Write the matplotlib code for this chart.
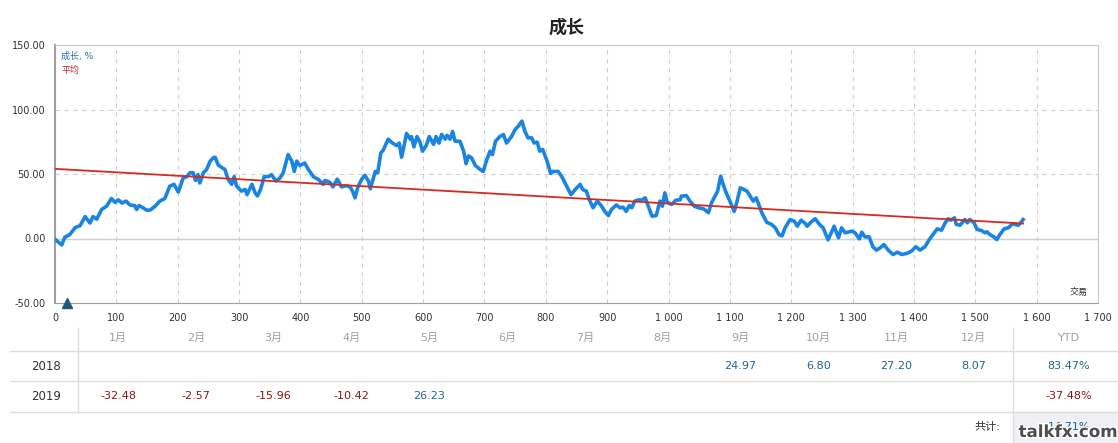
import matplotlib
matplotlib.use('Agg')
import matplotlib.pyplot as plt
import matplotlib.patheffects as pe
from matplotlib.ticker import FuncFormatter, MultipleLocator

plt.rcParams['font.family'] = ['DejaVu Sans', 'Noto Sans CJK SC']

# growth curve (trade number, growth %)
trade_no = [1, 11, 16, 24, 33, 41, 49, 57, 62, 68, 76, 84, 92, 98, 103, 109, 116, 122, 130, 133,
            137, 143, 149, 155, 163, 171, 179, 187, 194, 201, 209, 215, 220, 225, 229, 233, 236, 242,
            247, 253, 258, 261, 266, 272, 277, 282, 288, 292, 296, 304, 310, 313, 321, 326, 330, 335,
            341, 348, 353, 360, 367, 372, 380, 386, 390, 394, 399, 407, 413, 421,
            424, 429, 437, 440, 448, 453, 460, 467, 475, 481, 485, 489, 494, 500, 505, 511, 514, 522,
            526, 531, 535, 543, 550, 557, 561, 565, 573, 579, 581, 585, 590, 595, 599, 605, 610, 617,
            621, 626, 630, 636, 639, 644, 648, 652, 660, 666, 670, 674, 679, 685, 693, 698, 703, 709,
            713, 718, 725, 731, 736, 744, 750, 755, 761, 766, 771, 777, 781, 786, 790, 795, 802, 808,
            812, 820, 826, 834, 841,
            848, 856, 860, 866, 871, 877, 884, 891, 896, 902, 907, 915, 921, 926, 931, 936, 940, 945,
            951, 956, 962, 967, 973, 980, 986, 990, 994, 998, 1005, 1012, 1019, 1021, 1029, 1035, 1042,
            1049, 1057, 1065, 1070, 1077, 1080, 1085, 1089, 1094, 1100, 1107, 1111, 1117, 1123, 1128,
            1133, 1138, 1143, 1148, 1152, 1160, 1168, 1174, 1180, 1185, 1190, 1198, 1205, 1210, 1216,
            1222, 1226, 1232, 1239, 1246, 1252, 1260,
            1270, 1277, 1282, 1288, 1299, 1304, 1311, 1315, 1320, 1327, 1333, 1339, 1345, 1351, 1358,
            1366, 1373, 1380, 1388, 1396, 1403, 1410, 1418, 1425, 1433, 1438, 1445, 1451, 1456, 1460,
            1466, 1469, 1475, 1483, 1487, 1491, 1498, 1503, 1510, 1516, 1519, 1524, 1530, 1535, 1540,
            1547, 1554, 1561, 1565, 1570, 1574, 1578]
growth_pct = [-1, -5, 1, 3, 8.5, 10, 17, 12, 17, 15, 22.5, 25, 31, 28, 30, 27.5, 29, 26, 25.5, 22.5,
              25.5, 24, 22, 22, 25, 29, 31, 40.5, 42, 36, 47, 48, 51, 51, 45, 49.5, 43, 51,
              53.5, 60, 62.5, 63, 57, 55, 53.5, 46, 42, 48, 40.5, 36.7, 38, 34, 42, 35.5, 33, 38,
              48, 48, 49.5, 44.5, 47, 51, 65, 60, 52, 60, 56.5, 58.5, 53.5, 48,
              47, 46, 42, 45, 43.6, 40, 46, 40, 41, 40, 36.7, 31.5, 40.5, 46, 49, 44.5, 38.5, 52,
              51, 66.4, 68.5, 77, 74, 72, 74, 63, 81.4, 77, 79, 71, 79, 74.7, 67.7, 72, 79, 73,
              79, 74, 80.6, 77, 80, 77, 83, 75.4, 75.4, 67.7, 58, 64, 62.5, 56.6, 53.5, 52, 60, 67.7,
              65, 75.4, 79, 80.6, 74, 79, 84.5, 87, 91, 83, 78, 78, 74, 74.7, 67.7, 69, 60, 50.4,
              52, 52, 48, 40.5, 34,
              38, 42, 38, 36.7, 30, 23.8, 29, 25, 21, 17.8, 22.5, 26, 23.8, 24.3, 21, 25.6, 23.8, 29,
              30, 29.7, 31.5, 25, 17.3, 17.8, 29, 25, 35.4, 28, 26.4, 29.7, 30, 32.8, 33.3, 29, 25,
              23.8, 23, 20, 27.6, 34, 36.7, 48.3, 42, 35.4, 29, 21, 27.6, 39.3, 38, 36.7,
              32.8, 29, 31.5, 25, 20, 12.6, 10.9, 8.3, 3, 2, 8.3, 14.7, 13.4, 9.5, 14.2,
              12, 9.5, 12.6, 15.3, 10.9, 8.3, -1,
              9.5, 0.5, 8.3, 4.4, 5.7, 4.4, -0.3, 4.9, 1.3, 1.3, -6.4, -9, -7.2, -4.7, -9,
              -12.4, -10.6, -12.4, -11.6, -9.8, -6.4, -9, -6.4, -0.8, 4.4, 7.5, 6.4, 12.2, 15.3, 14.2,
              16, 10.9, 10.3, 14.7, 12.2, 14.7, 12.2, 7, 6.2, 4.4, 5.2, 3, 1.3, -0.8, 3,
              7.5, 8.3, 11.6, 10.9, 10.3, 12.2, 14.7]

# average (trend) line end points
avg_x = [0, 1578]
avg_y = [54, 11.6]

deposit_x = [20]
deposit_y = [-50]

months = ['1月', '2月', '3月', '4月', '5月', '6月', '7月', '8月', '9月', '10月', '11月', '12月']
years = ['2018', '2019']
monthly = {
    '2018': [None, None, None, None, None, None, None, None, 24.97, 6.80, 27.20, 8.07],
    '2019': [-32.48, -2.57, -15.96, -10.42, 26.23, None, None, None, None, None, None, None],
}
ytd = {'2018': 83.47, '2019': -37.48}
total = 14.71

POS = '#1f6590'
NEG = '#8e1414'

fig = plt.figure(figsize=(11.18, 4.43), dpi=100)

# table drawn in pixel coordinates
tb = fig.add_axes([0, 0, 1, 1], zorder=-1)
tb.set_xlim(0, 1118)
tb.set_ylim(443, 0)
tb.axis('off')

ax = fig.add_axes([55 / 1118, 140 / 443, 1043 / 1118, 258 / 443])
ax.plot(trade_no, growth_pct, color='#1a84e2', lw=2.6, solid_joinstyle='round', zorder=3)
ax.plot(avg_x, avg_y, color='#d62a1e', lw=1.3, zorder=4)
ax.plot(deposit_x, deposit_y, marker='^', ms=7, color='#1d5a78', ls='none', clip_on=False, zorder=5)
ax.set_xlim(0, 1700)
ax.set_ylim(-50, 150)
ax.xaxis.set_major_locator(MultipleLocator(100))
ax.yaxis.set_major_locator(MultipleLocator(50))
ax.xaxis.set_major_formatter(FuncFormatter(lambda v, p: f'{int(v):,}'.replace(',', ' ')))
ax.yaxis.set_major_formatter(FuncFormatter(lambda v, p: f'{v:.2f}'))
ax.tick_params(length=0, labelsize=7, colors='#333333', pad=7)
ax.grid(True, color='#cfcfcf', ls=(0, (4, 4)), lw=0.8, zorder=0)
ax.axhline(0, color='#d0d0d0', lw=1, zorder=1)
for s in ax.spines.values():
    s.set_color('#c8c8c8')
ax.spines['left'].set_color('#a0a0a0')
ax.spines['left'].set_linewidth(1.5)
ax.spines['bottom'].set_color('#a0a0a0')

ax.text(0.006, 0.957, '成长, %', transform=ax.transAxes, color='#2f6fb5', fontsize=6.5, va='center')
ax.text(0.006, 0.903, '平均', transform=ax.transAxes, color='#c62a2a', fontsize=6.5, va='center')
ax.text(0.99, 0.025, '交易', transform=ax.transAxes, color='#333333', fontsize=6.5, ha='right', va='bottom')

fig.text(567 / 1118, 1 - 28 / 443, '成长', ha='center', va='center', fontsize=13,
         fontweight='bold', color='#222222')

# table grid
for yl in [351, 381, 412]:
    tb.plot([10, 1118], [yl, yl], color='#dddddd', lw=1)
tb.plot([78, 78], [328, 412], color='#dddddd', lw=1)
tb.plot([1013, 1013], [328, 443], color='#dddddd', lw=1)
tb.fill_between([1013, 1118], 412, 443, color='#eef0f3', lw=0)

month_x = [118 + 77.8 * i for i in range(12)]
for mx, m in zip(month_x, months):
    tb.text(mx, 338, m, ha='center', va='center', fontsize=8, color='#a0a0a0')
tb.text(1069, 338, 'YTD', ha='center', va='center', fontsize=8, color='#a0a0a0')

row_y = {'2018': 366, '2019': 396}
for yr in years:
    ry = row_y[yr]
    tb.text(46, ry, yr, ha='center', va='center', fontsize=8.5, color='#333333')
    for mx, v in zip(month_x, monthly[yr]):
        if v is None:
            continue
        tb.text(mx, ry, f'{v:.2f}', ha='center', va='center', fontsize=8,
                color=POS if v >= 0 else NEG)
    v = ytd[yr]
    tb.text(1069, ry, f'{v:.2f}%', ha='center', va='center', fontsize=8,
            color=POS if v >= 0 else NEG)

tb.text(987, 427, '共计:', ha='center', va='center', fontsize=8, color='#333333')
tb.text(1069, 427, f'{total:.2f}%', ha='center', va='center', fontsize=8, color=POS)
tb.text(1068, 432, 'talkfx.com', ha='center', va='center', fontsize=12, fontweight='bold',
        color='#4d4d4d', path_effects=[pe.withStroke(linewidth=2, foreground='white')])

fig.savefig('out.png', dpi=100)
